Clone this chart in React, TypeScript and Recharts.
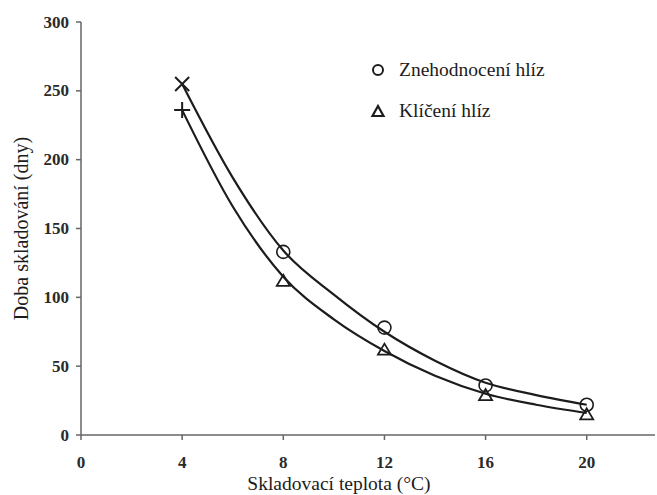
import React from 'react';
import { ComposedChart, Line, Scatter, XAxis, YAxis } from 'recharts';

// Fitted curves
const curveTemps = [4, 6, 8, 10, 12, 14, 16, 18, 20];
const decayCurve = [255, 187, 134, 102, 75, 54, 38, 29, 22];
const sproutCurve = [236, 166, 115, 84, 61, 43, 30, 22, 16];

// Measured points
const pointTemps = [8, 12, 16, 20];
const decayPoints = [133, 78, 36, 22];
const sproutPoints = [112, 62, 29, 15];

// Points at 4 °C
const crossTemp = [4];
const crossValue = [255];
const plusValue = [236];

const xTicks = [0, 4, 8, 12, 16, 20];
const yTicks = [0, 50, 100, 150, 200, 250, 300];

const legendLabels = ['Znehodnocení hlíz', 'Klíčení hlíz'];

const toXY = (xs: number[], ys: number[]) => xs.map((x, i) => ({ x, y: ys[i] }));

const decayCurveData = toXY(curveTemps, decayCurve);
const sproutCurveData = toXY(curveTemps, sproutCurve);
const decayPointData = toXY(pointTemps, decayPoints);
const sproutPointData = toXY(pointTemps, sproutPoints);
const crossData = toXY(crossTemp, crossValue);
const plusData = toXY(crossTemp, plusValue);

const INK = '#1c1c1c';
const FONT = 'Liberation Serif';

const CircleShape = (p: any) => (
  <circle cx={p.cx} cy={p.cy} r={6.5} fill="none" stroke={INK} strokeWidth={1.6} />
);
const TriangleShape = (p: any) => (
  <path
    d={`M${p.cx},${p.cy - 6} L${p.cx + 6.5},${p.cy + 5} L${p.cx - 6.5},${p.cy + 5} Z`}
    fill="none"
    stroke={INK}
    strokeWidth={1.8}
  />
);
const CrossShape = (p: any) => (
  <path
    d={`M${p.cx - 7},${p.cy - 7} L${p.cx + 7},${p.cy + 7} M${p.cx + 7},${p.cy - 7} L${p.cx - 7},${p.cy + 7}`}
    stroke={INK}
    strokeWidth={2}
  />
);
const PlusShape = (p: any) => (
  <path
    d={`M${p.cx - 8},${p.cy} L${p.cx + 8},${p.cy} M${p.cx},${p.cy - 8} L${p.cx},${p.cy + 8}`}
    stroke={INK}
    strokeWidth={2}
  />
);

const LegendBox = () => (
  <div
    style={{
      position: 'absolute',
      left: 368,
      top: 58,
      fontFamily: FONT,
      fontSize: 19.5,
      color: INK,
      pointerEvents: 'none',
    }}
  >
    <div style={{ display: 'flex', alignItems: 'center', height: 24 }}>
      <svg width={20} height={20} style={{ marginRight: 11 }}>
        <circle cx={10} cy={10} r={5} fill="none" stroke={INK} strokeWidth={2} />
      </svg>
      <span>{legendLabels[0]}</span>
    </div>
    <div style={{ display: 'flex', alignItems: 'center', height: 24, marginTop: 17 }}>
      <svg width={20} height={20} style={{ marginRight: 11 }}>
        <path d="M10,5 L15.5,15 L4.5,15 Z" fill="none" stroke={INK} strokeWidth={2.2} />
      </svg>
      <span>{legendLabels[1]}</span>
    </div>
  </div>
);

const TickLabel = (p: any) => (
  <text
    x={p.x}
    y={p.y}
    dy={p.dyOffset ?? 0}
    textAnchor={p.textAnchor}
    dominantBaseline={p.baseline}
    fontFamily={FONT}
    fontSize={17}
    fontWeight={700}
    fill="#2a2a2a"
  >
    {p.payload.value}
  </text>
);

export default function App() {
  return (
    <div
      style={{
        position: 'absolute',
        left: 0,
        top: 0,
        width: 657,
        height: 495,
        background: '#fff',
        fontFamily: FONT,
      }}
    >
      <ComposedChart
        width={657}
        height={495}
        margin={{ top: 22, right: 2, bottom: 0, left: 0 }}
        style={{ fontFamily: FONT }}
      >
        <XAxis
          type="number"
          dataKey="x"
          domain={[0, 22.7]}
          ticks={xTicks}
          allowDataOverflow
          tick={(p: any) => <TickLabel {...p} textAnchor="middle" baseline="hanging" dyOffset={4} />}
          tickSize={5}
          tickMargin={12}
          height={60}
          axisLine={{ stroke: '#666', strokeWidth: 1.5 }}
          tickLine={{ stroke: '#666', strokeWidth: 1.5 }}
          label={(props: any) => {
            const vb = props.viewBox || { x: 81, y: 435 };
            return (
              <text
                x={vb.x + 258}
                y={vb.y + 55}
                textAnchor="middle"
                fontFamily={FONT}
                fontSize={19.5}
                fill={INK}
              >
                Skladovací teplota (°C)
              </text>
            );
          }}
        />
        <YAxis
          type="number"
          dataKey="y"
          domain={[0, 300]}
          ticks={yTicks}
          tick={(p: any) => <TickLabel {...p} textAnchor="end" baseline="central" />}
          tickSize={5}
          tickMargin={7}
          width={81}
          axisLine={{ stroke: '#666', strokeWidth: 1.5 }}
          tickLine={{ stroke: '#666', strokeWidth: 1.5 }}
          label={(props: any) => {
            const vb = props.viewBox || { x: 0, y: 22, height: 413 };
            const cx = vb.x + 21;
            const cy = vb.y + vb.height / 2;
            return (
              <text
                x={cx}
                y={cy}
                textAnchor="middle"
                dominantBaseline="central"
                transform={`rotate(-90 ${cx} ${cy})`}
                fontFamily={FONT}
                fontSize={20}
                fill={INK}
              >
                Doba skladování (dny)
              </text>
            );
          }}
        />
        <Line
          data={decayCurveData}
          dataKey="y"
          type="monotone"
          stroke={INK}
          strokeWidth={2.2}
          dot={false}
          isAnimationActive={false}
          legendType="none"
        />
        <Line
          data={sproutCurveData}
          dataKey="y"
          type="monotone"
          stroke={INK}
          strokeWidth={2.2}
          dot={false}
          isAnimationActive={false}
          legendType="none"
        />
        <Scatter data={decayPointData} dataKey="y" shape={CircleShape} isAnimationActive={false} />
        <Scatter data={sproutPointData} dataKey="y" shape={TriangleShape} isAnimationActive={false} />
        <Scatter data={crossData} dataKey="y" shape={CrossShape} isAnimationActive={false} />
        <Scatter data={plusData} dataKey="y" shape={PlusShape} isAnimationActive={false} />
      </ComposedChart>
      <LegendBox />
    </div>
  );
}
